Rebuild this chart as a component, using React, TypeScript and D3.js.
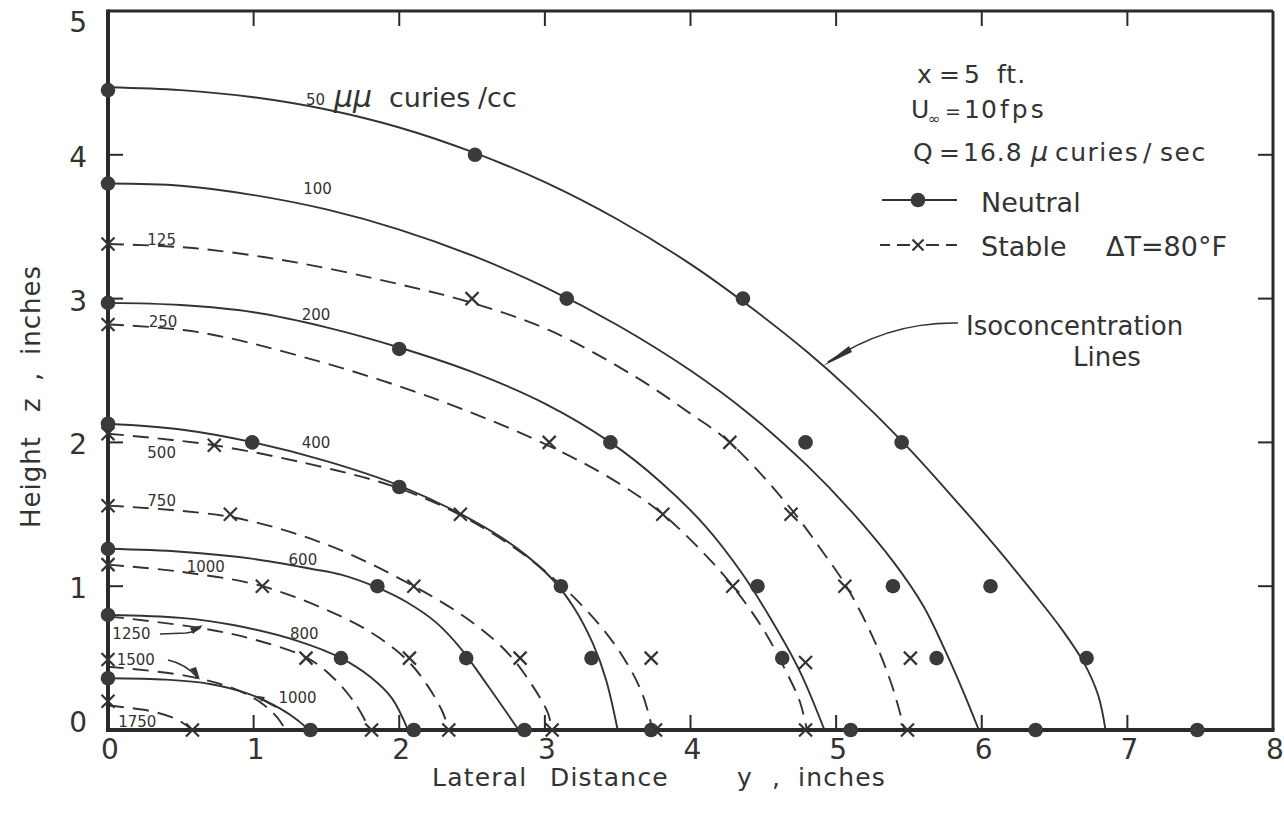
import React from "react";
import * as d3 from "d3";

type P = [number, number];

// axis ticks
const xTicks = [0, 1, 2, 3, 4, 5, 6, 7, 8];
const yTicks = [0, 1, 2, 3, 4, 5];

// Neutral isoconcentration lines (solid): [lateral distance y, height z]
const neutral50: P[] = [[0, 4.47], [0.5, 4.45], [1, 4.4], [1.5, 4.315], [2, 4.19], [2.5, 4.02], [3, 3.81], [3.5, 3.55], [4, 3.24], [4.4, 2.95], [4.8, 2.63], [5.1, 2.36], [5.45, 2.01], [5.8, 1.62], [6.1, 1.27], [6.35, 0.96], [6.55, 0.7], [6.7, 0.47], [6.8, 0.24], [6.85, 0]];
const neutral100: P[] = [[0, 3.8], [0.5, 3.785], [1, 3.72], [1.5, 3.62], [2, 3.48], [2.5, 3.3], [3, 3.08], [3.5, 2.815], [4, 2.5], [4.4, 2.2], [4.8, 1.84], [5.1, 1.525], [5.4, 1.16], [5.6, 0.86], [5.75, 0.55], [5.88, 0.25], [5.98, 0]];
const neutral200: P[] = [[0, 2.97], [0.5, 2.955], [1, 2.905], [1.5, 2.8], [2, 2.66], [2.5, 2.49], [3, 2.27], [3.45, 2.0], [3.8, 1.72], [4.1, 1.42], [4.35, 1.095], [4.55, 0.775], [4.75, 0.41], [4.92, 0]];
const neutral400: P[] = [[0, 2.13], [0.5, 2.09], [1, 2.0], [1.5, 1.87], [2, 1.7], [2.5, 1.46], [2.8, 1.27], [3.05, 1.05], [3.2, 0.85], [3.33, 0.6], [3.42, 0.35], [3.5, 0]];
const neutral600: P[] = [[0, 1.26], [0.5, 1.24], [1, 1.19], [1.4, 1.12], [1.6, 1.08], [1.85, 0.99], [2.05, 0.89], [2.25, 0.75], [2.42, 0.57], [2.6, 0.32], [2.82, 0]];
const neutral800: P[] = [[0, 0.8], [0.5, 0.78], [0.86, 0.73], [1.3, 0.62], [1.6, 0.5], [1.8, 0.37], [1.95, 0.22], [2.06, 0]];
const neutral1000: P[] = [[0, 0.36], [0.4, 0.35], [0.7, 0.32], [0.97, 0.25], [1.18, 0.15], [1.3, 0.07], [1.38, 0]];

// Stable isoconcentration lines (dashed)
const stable125: P[] = [[0, 3.38], [0.6, 3.35], [1.3, 3.25], [2, 3.1], [2.5, 2.97], [3.03, 2.78], [3.6, 2.47], [4.0, 2.2], [4.27, 2.0], [4.68, 1.55], [4.9, 1.25], [5.07, 1.0], [5.25, 0.65], [5.38, 0.32], [5.47, 0]];
const stable250: P[] = [[0, 2.82], [0.6, 2.77], [1.32, 2.6], [2.2, 2.32], [3.02, 1.98], [3.5, 1.72], [3.81, 1.5], [4.1, 1.22], [4.29, 1.0], [4.5, 0.7], [4.65, 0.42], [4.75, 0.2], [4.8, 0]];
const stable500: P[] = [[0, 2.06], [0.73, 1.98], [1.55, 1.81], [2.0, 1.68], [2.41, 1.5], [2.8, 1.26], [3.13, 0.99], [3.4, 0.7], [3.56, 0.47], [3.67, 0.25], [3.74, 0]];
const stable750: P[] = [[0, 1.56], [0.85, 1.48], [1.5, 1.29], [2.1, 1.0], [2.5, 0.75], [2.75, 0.53], [2.92, 0.3], [3.02, 0.12], [3.05, 0]];
const stable1000: P[] = [[0, 1.15], [0.5, 1.1], [1.06, 1.0], [1.6, 0.79], [1.85, 0.65], [2.06, 0.48], [2.2, 0.3], [2.3, 0.12], [2.34, 0]];
const stable1250: P[] = [[0, 0.79], [0.63, 0.71], [1.0, 0.63], [1.37, 0.5], [1.55, 0.36], [1.7, 0.18], [1.8, 0]];
const stable1500: P[] = [[0, 0.44], [0.52, 0.38], [0.86, 0.29], [1.05, 0.19], [1.16, 0.09], [1.22, 0]];
const stable1750: P[] = [[0, 0.17], [0.3, 0.13], [0.48, 0.07], [0.58, 0]];

const neutralCurves = [neutral50, neutral100, neutral200, neutral400, neutral600, neutral800, neutral1000];
const stableCurves = [stable125, stable250, stable500, stable750, stable1000, stable1250, stable1500, stable1750];

// measured points
const neutralPoints: P[] = [
  [0, 4.45], [0, 3.8], [0, 2.97], [0, 2.13], [0, 1.26], [0, 0.8], [0, 0.36],
  [2.52, 4.0], [3.15, 3.0], [4.36, 3.0], [2.0, 2.65], [0.99, 2.0], [3.45, 2.0], [4.79, 2.0], [5.45, 2.0], [2.0, 1.69],
  [1.85, 1.0], [3.11, 1.0], [4.46, 1.0], [5.39, 1.0], [6.06, 1.0],
  [1.6, 0.5], [2.46, 0.5], [3.32, 0.5], [4.63, 0.5], [5.69, 0.5], [6.72, 0.5],
  [1.39, 0], [2.1, 0], [2.86, 0], [3.73, 0], [5.1, 0], [6.37, 0], [7.48, 0],
];
const stablePoints: P[] = [
  [0, 3.38], [0, 2.82], [0, 2.06], [0, 1.56], [0, 1.15], [0, 0.49], [0, 0.2],
  [2.5, 3.0], [0.73, 1.98], [3.03, 2.0], [4.27, 2.0], [0.84, 1.5], [2.42, 1.5], [3.81, 1.5], [4.69, 1.5],
  [1.06, 1.0], [2.1, 1.0], [4.29, 1.0], [5.06, 1.0],
  [1.36, 0.5], [2.07, 0.5], [2.83, 0.5], [3.73, 0.5], [4.79, 0.47], [5.51, 0.5],
  [0.58, 0], [1.81, 0], [2.34, 0], [3.05, 0], [3.76, 0], [4.79, 0], [5.49, 0],
];

// contour labels: text, anchor position in data units
const curveLabels: { t: string; at: P }[] = [
  { t: "100", at: [1.34, 3.73] },
  { t: "125", at: [0.27, 3.37] },
  { t: "200", at: [1.33, 2.85] },
  { t: "250", at: [0.28, 2.8] },
  { t: "400", at: [1.33, 1.96] },
  { t: "500", at: [0.27, 1.89] },
  { t: "750", at: [0.27, 1.56] },
  { t: "600", at: [1.24, 1.15] },
  { t: "1000", at: [0.54, 1.1] },
  { t: "1250", at: [0.03, 0.63] },
  { t: "800", at: [1.25, 0.63] },
  { t: "1500", at: [0.06, 0.45] },
  { t: "1000", at: [1.17, 0.19] },
  { t: "1750", at: [0.07, 0.02] },
];

const INK = "#333";
const FONT = "'DejaVu Sans', sans-serif";

export default function App() {
  const x = d3.scaleLinear().domain([0, 8]).range([108, 1273]);
  const y = d3.scaleLinear().domain([0, 5]).range([730, 11]);
  const line = d3
    .line<P>()
    .x((d) => x(d[0]))
    .y((d) => y(d[1]))
    .curve(d3.curveCatmullRom.alpha(0.5));

  const X0 = x(0), X1 = x(8), Y0 = y(0), Y1 = y(5);
  const tickLen = 15;

  const xMark = (px: number, py: number, s = 6.5, key?: any) => (
    <g key={key} stroke={INK} strokeWidth={2.2}>
      <line x1={px - s} y1={py - s} x2={px + s} y2={py + s} />
      <line x1={px - s} y1={py + s} x2={px + s} y2={py - s} />
    </g>
  );

  return (
    <svg
      width={1284}
      height={823}
      style={{ position: "absolute", left: 0, top: 0, background: "#fff" }}
      fontFamily={FONT}
    >
      <rect x={0} y={0} width={1284} height={823} fill="#fff" />

      {/* curves */}
      <g fill="none" stroke={INK} strokeLinecap="butt">
        {neutralCurves.map((c, i) => (
          <path key={"n" + i} d={line(c) || ""} strokeWidth={1.9} />
        ))}
        {stableCurves.map((c, i) => (
          <path key={"s" + i} d={line(c) || ""} strokeWidth={1.9} strokeDasharray="16 9" />
        ))}
      </g>

      {/* frame */}
      <g stroke="#2a2a2a" fill="none">
        <line x1={X0} y1={Y1} x2={X1} y2={Y1} strokeWidth={3} />
        <line x1={X1} y1={Y1} x2={X1} y2={Y0} strokeWidth={3} />
        <line x1={X0} y1={Y0} x2={X1 + 1.5} y2={Y0} strokeWidth={4} />
        <line x1={X0} y1={Y1 - 1.5} x2={X0} y2={Y0 + 2} strokeWidth={4} />
      </g>

      {/* ticks */}
      <g stroke="#2a2a2a" strokeWidth={2}>
        {xTicks.slice(1, -1).map((t) => (
          <g key={"xt" + t}>
            <line x1={x(t)} y1={Y0} x2={x(t)} y2={Y0 - tickLen} />
            <line x1={x(t)} y1={Y1} x2={x(t)} y2={Y1 + tickLen} />
          </g>
        ))}
        {yTicks.slice(1, -1).map((t) => (
          <g key={"yt" + t}>
            <line x1={X0} y1={y(t)} x2={X0 + tickLen} y2={y(t)} />
            <line x1={X1} y1={y(t)} x2={X1 - tickLen} y2={y(t)} />
          </g>
        ))}
      </g>

      {/* tick labels */}
      <g fill={INK} fontSize={28}>
        {xTicks.map((t) => (
          <text key={"xl" + t} x={x(t) + 2} y={759} textAnchor="middle">
            {t}
          </text>
        ))}
        {yTicks.map((t) => (
          <text key={"yl" + t} x={87} y={Math.max(32, Math.min(732, y(t) + 12))} textAnchor="end">
            {t}
          </text>
        ))}
      </g>

      {/* axis titles */}
      <g fill={INK} fontSize={25} letterSpacing={1.2}>
        <text x={432} y={786}>Lateral</text>
        <text x={550} y={786}>Distance</text>
        <text x={737} y={786}>y</text>
        <text x={772} y={786}>,</text>
        <text x={798} y={786}>inches</text>
      </g>
      <g fill={INK} fontSize={26} letterSpacing={1} transform="translate(40, 0) rotate(-90)">
        <text x={-528} y={0}>Height</text>
        <text x={-412} y={0}>z</text>
        <text x={-381} y={0}>,</text>
        <text x={-355} y={0}>inches</text>
      </g>

      {/* markers */}
      <g fill="#3a3a3a">
        {neutralPoints.map((p, i) => (
          <circle key={"np" + i} cx={x(p[0])} cy={y(p[1])} r={7.3} />
        ))}
      </g>
      {stablePoints.map((p, i) => xMark(x(p[0]), y(p[1]), 6.5, "sp" + i))}

      {/* contour labels */}
      <g fill={INK} fontSize={15}>
        {curveLabels.map((l, i) => (
          <text key={"cl" + i} x={x(l.at[0])} y={y(l.at[1])}>
            {l.t}
          </text>
        ))}
      </g>
      <g fill={INK}>
        <text x={306} y={105} fontSize={15}>50</text>
        <text x={334} y={107} fontSize={30} fontStyle="italic">μμ</text>
        <text x={389} y={107} fontSize={27}>curies</text>
        <text x={478} y={107} fontSize={27}>/cc</text>
      </g>

      {/* small arrows from labels */}
      <g fill="none" stroke={INK} strokeWidth={1.6}>
        <path d="M160,634 L186,633 Q196,632 201,627" />
        <path d="M168,660 Q186,664 198,678" />
        <path d="M276,707 Q266,702 259,697" />
      </g>
      <g fill={INK}>
        <path d="M203,625 L190,628 L193,634 Z" />
        <path d="M200,680 L190,669 L196,667 Z" />
        <path d="M257,696 L265,697 L262,702 Z" />
      </g>

      {/* annotation block */}
      <g fill={INK} fontSize={25} letterSpacing={1}>
        <text x={917} y={83}>x</text>
        <text x={939} y={83}>=</text>
        <text x={964} y={83}>5</text>
        <text x={997} y={83}>ft.</text>
        <text x={911} y={118}>U</text>
        <text x={928} y={124} fontSize={15} letterSpacing={0}>∞</text>
        <text x={945} y={118} fontSize={19} letterSpacing={0}>=</text>
        <text x={964} y={118}>10</text>
        <text x={1000} y={118} letterSpacing={3}>fps</text>
        <text x={913} y={161}>Q</text>
        <text x={939} y={161}>=</text>
        <text x={963} y={161}>16.8</text>
        <text x={1031} y={161} fontStyle="italic" fontSize={27}>μ</text>
        <text x={1055} y={161} letterSpacing={1.5}>curies</text>
        <text x={1143} y={161}>/</text>
        <text x={1160} y={161} letterSpacing={1.5}>sec</text>
      </g>

      {/* legend */}
      <g stroke={INK} strokeWidth={2}>
        <line x1={882} y1={200} x2={957} y2={200} />
        <line x1={880} y1={245} x2={890} y2={245} />
        <line x1={897} y1={245} x2={910} y2={245} />
        <line x1={926} y1={245} x2={939} y2={245} />
        <line x1={946} y1={245} x2={957} y2={245} />
      </g>
      <circle cx={918} cy={200} r={7.3} fill="#3a3a3a" />
      {xMark(918, 245, 5.5, "legx")}
      <g fill={INK} fontSize={27}>
        <text x={981} y={212}>Neutral</text>
        <text x={981} y={256}>Stable</text>
        <text x={1106} y={256}>ΔT=80°F</text>
        <text x={966} y={335} fontSize={26}>Isoconcentration</text>
        <text x={1073} y={366} fontSize={26}>Lines</text>
      </g>

      {/* leader to isoconcentration lines */}
      <path d="M958,323 C905,322 864,338 828,362" fill="none" stroke={INK} strokeWidth={1.6} />
      <path d="M823,366 L849,346 L852,352 Z" fill={INK} />
    </svg>
  );
}
